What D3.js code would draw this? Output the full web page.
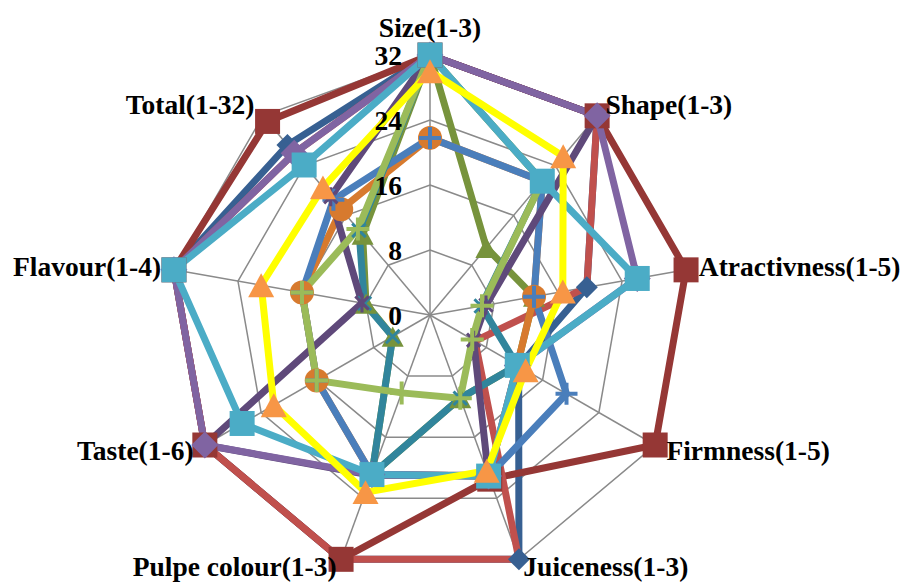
<!DOCTYPE html>
<html>
<head>
<meta charset="utf-8">
<script src="https://cdn.jsdelivr.net/npm/d3@7"></script>
<style>
  html, body { margin: 0; padding: 0; background: #ffffff; }
  svg { display: block; }
  text { font-family: "Liberation Serif", "Times New Roman", serif; font-weight: bold; fill: #000; }
</style>
</head>
<body>
<svg id="chart" width="909" height="584"></svg>
<script>
// Sensory scores of the fruit samples, every trait rescaled to the 0-32 range
const axes = ["Size(1-3)", "Shape(1-3)", "Atractivness(1-5)", "Firmness(1-5)", "Juiceness(1-3)",
              "Pulpe colour(1-3)", "Taste(1-6)", "Flavour(1-4)", "Total(1-32)"];
const tickValues = [0, 8, 16, 24, 32];

const seriesDarkBlue   = [32, 32, 19.6, 12.6, 32, 32, 32, 32, 27.3];
const seriesDarkRed    = [32, 32, 32, 32, 21.5, 32, 32, 32, 31.1];
const seriesRed        = [32, 32, 19.6, 6.4, 32, 32, 32, 32, 26];
const seriesOlive      = [32, 10.8, 13, 12.4, 10.9, 20.9, 5.3, 8, 12.9];
const seriesOrange     = [21.8, 21.5, 13, 12.4, 21.1, 20.9, 16.1, 16, 17];
const seriesBlue       = [21.8, 21.5, 13, 19.4, 21.1, 20.9, 16.1, 16, 18.5];
const seriesTeal       = [32, 21.5, 6.4, 12.4, 10.9, 20.9, 5.3, 8.2, 13.6];
const seriesDarkPurple = [32, 32, 7, 6.2, 21, 21, 32, 8.5, 19];
const seriesLightGreen = [32, 21.5, 6.5, 6, 10.9, 10.2, 16.1, 16, 13.8];
const seriesPurple     = [32, 32, 25.9, 12.4, 21.1, 20.9, 32, 32, 26];
const seriesAqua       = [32, 21.5, 25.9, 12.4, 21.1, 20.9, 26.7, 32, 24.1];
const seriesYellow     = [30, 25.5, 16.6, 13.6, 20.4, 23.2, 22.2, 21.1, 20.5];

// drawing order: later entries sit on top
const series = [
  { values: seriesDarkBlue,   line: "#376092", marker: "diamond",  fill: "#376092", size: 22 },
  { values: seriesDarkRed,    line: "#953735", marker: "square",   fill: "#953735", size: 25 },
  { values: seriesRed,        line: "#C0504D", marker: null },
  { values: seriesOlive,      line: "#77933C", marker: "triangle", fill: "#77933C", size: 22 },
  { values: seriesOrange,     line: "#D77A2E", marker: "circle",   fill: "#D77A2E", size: 24 },
  { values: seriesBlue,       line: "#4A7EBB", marker: "plus",     fill: "#4A7EBB", size: 22 },
  { values: seriesTeal,       line: "#31859C", marker: "x",        fill: "#31859C", size: 18 },
  { values: seriesDarkPurple, line: "#5F497A", marker: "star",     fill: "#5F497A", size: 19 },
  { values: seriesLightGreen, line: "#9BBB59", marker: "plus",     fill: "#9BBB59", size: 23 },
  { values: seriesPurple,     line: "#8064A2", marker: "diamond",  fill: "#8064A2", size: 27 },
  { values: seriesAqua,       line: "#4BACC6", marker: "square",   fill: "#4BACC6", size: 25 },
  { values: seriesYellow,     line: "#FFFF00", marker: "triangle", fill: "#F79646", size: 26 }
];

const svg = d3.select("#chart");
const cx = 430, cy = 315, R = 260;
const n = axes.length;
const fontSize = "27.5px";

const r = d3.scaleLinear().domain([0, 32]).range([0, R]);
const angle = d3.scaleLinear().domain([0, n]).range([0, 2 * Math.PI]);

const g = svg.append("g").attr("transform", `translate(${cx},${cy})`);

const pointAt = (i, v) => {
  const a = angle(i);
  return [r(v) * Math.sin(a), -r(v) * Math.cos(a)];
};

// grid rings
const ringLine = d3.lineRadial()
  .angle((d, i) => angle(i))
  .radius(d => r(d))
  .curve(d3.curveLinearClosed);

const gridColor = "#8a8a8a";
g.append("g").selectAll("path")
  .data(tickValues.filter(v => v > 0))
  .join("path")
  .attr("d", v => ringLine(axes.map(() => v)))
  .attr("fill", "none")
  .attr("stroke", gridColor)
  .attr("stroke-width", 1.5);

// spokes
g.append("g").selectAll("line")
  .data(axes)
  .join("line")
  .attr("x1", 0).attr("y1", 0)
  .attr("x2", (d, i) => pointAt(i, 32)[0])
  .attr("y2", (d, i) => pointAt(i, 32)[1])
  .attr("stroke", gridColor)
  .attr("stroke-width", 1.5);

// series lines
const seriesLine = d3.lineRadial()
  .angle((d, i) => angle(i))
  .radius(d => r(d))
  .curve(d3.curveLinearClosed);

g.append("g").selectAll("path")
  .data(series)
  .join("path")
  .attr("d", s => seriesLine(s.values))
  .attr("fill", "none")
  .attr("stroke", s => s.line)
  .attr("stroke-width", 7)
  .attr("stroke-linejoin", "miter");

// marker shapes
function markerPath(type, s) {
  const h = s / 2;
  switch (type) {
    case "square":   return `M${-h},${-h}H${h}V${h}H${-h}Z`;
    case "diamond":  return `M0,${-h}L${h},0L0,${h}L${-h},0Z`;
    case "triangle": return `M0,${-h * 0.92}L${h},${h * 0.92}L${-h},${h * 0.92}Z`;
    case "circle": {
      const p = d3.path(); p.arc(0, 0, h, 0, 2 * Math.PI); return p.toString();
    }
    case "plus":     return `M${-h},0H${h}M0,${-h}V${h}`;
    case "x":        return `M${-h * 0.75},${-h * 0.75}L${h * 0.75},${h * 0.75}M${h * 0.75},${-h * 0.75}L${-h * 0.75},${h * 0.75}`;
    case "star":     return `M${-h * 0.7},${-h * 0.7}L${h * 0.7},${h * 0.7}M${h * 0.7},${-h * 0.7}L${-h * 0.7},${h * 0.7}M0,${-h}V${h}`;
  }
  return "";
}
const stroked = new Set(["plus", "x", "star"]);

const markerLayer = g.append("g");
series.filter(s => s.marker).forEach(s => {
  markerLayer.append("g").selectAll("path")
    .data(s.values)
    .join("path")
    .attr("transform", (v, i) => `translate(${pointAt(i, v)[0]},${pointAt(i, v)[1]})`)
    .attr("d", markerPath(s.marker, s.size))
    .attr("fill", stroked.has(s.marker) ? "none" : s.fill)
    .attr("stroke", stroked.has(s.marker) ? s.fill : "none")
    .attr("stroke-width", s.marker === "plus" ? 4 : 3);
});

// radial tick labels along the vertical axis
g.append("g").selectAll("text")
  .data(tickValues)
  .join("text")
  .attr("x", -28)
  .attr("y", v => -r(v))
  .attr("dy", "0.35em")
  .attr("text-anchor", "end")
  .attr("font-size", fontSize)
  .text(v => v);

// axis category labels
g.append("g").selectAll("text")
  .data(axes)
  .join("text")
  .each(function (name, i) {
    const a = angle(i), s = Math.sin(a), c = Math.cos(a);
    const [px, py] = pointAt(i, 32);
    const sel = d3.select(this).attr("font-size", fontSize);
    if (Math.abs(s) < 0.01) {
      sel.attr("x", px).attr("y", py - 18).attr("text-anchor", "middle");
    } else {
      sel.attr("x", px + 13 * s)
         .attr("y", Math.min(py + 8.5 - 13.5 * c, 576 - cy))
         .attr("text-anchor", s > 0 ? "start" : "end");
    }
  })
  .text(d => d);
</script>
</body>
</html>
